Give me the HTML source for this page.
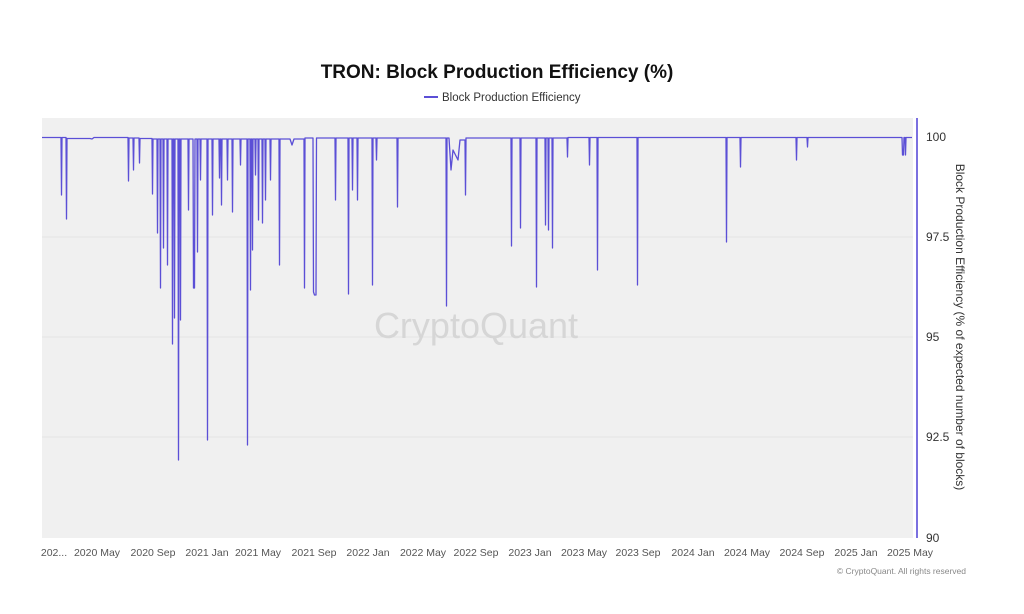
<!DOCTYPE html>
<html><head><meta charset="utf-8"><style>
body{margin:0;background:#fff;width:1024px;height:609px;overflow:hidden;font-family:"Liberation Sans",sans-serif}
</style></head><body>
<svg width="1024" height="609" xmlns="http://www.w3.org/2000/svg" font-family="Liberation Sans, sans-serif">
<text x="497" y="78" text-anchor="middle" font-size="19" font-weight="bold" fill="#111">TRON: Block Production Efficiency (%)</text>
<line x1="424" y1="97" x2="438" y2="97" stroke="#5b4fd6" stroke-width="2"/>
<text x="442" y="101" font-size="11.5" fill="#333">Block Production Efficiency</text>
<rect x="42" y="118" width="871" height="420" fill="#f0f0f0"/>
<g stroke="#e4e4e4" stroke-width="1">
<line x1="42" y1="237" x2="913" y2="237"/><line x1="42" y1="337" x2="913" y2="337"/><line x1="42" y1="437" x2="913" y2="437"/>
</g>
<text x="476" y="338" text-anchor="middle" font-size="36" fill="#d6d6d6">CryptoQuant</text>
<path fill="none" stroke="#5b4fd6" stroke-width="1.3" stroke-linejoin="round" d="M42 137.5 H61 L61.5 195 L62 137.5 H66 L66.5 219 L67 138.5 H90 L92 139 L94 137.5 H128 L128.5 181 L129 138 H133 L133.5 170 L134 138 H139 L139.5 163 L140 138.5 H152 L152.5 194 L153 139 H157 L157.5 233 L158 139 H160 L160.5 288 L161 139 H163 L163.5 248 L164 139 H167 L167.5 265 L168 139 H172 L172.5 344 L173 139 H174 L174.5 318 L175 139 H178 L178.5 460 L179 139 H180 L180.5 320 L181 139 H188 L188.5 210 L189 139 H193 L193.5 288 L194.5 288 L195 139 H197 L197.5 252 L198 139 H200 L200.5 180 L201 139 H207 L207.5 440 L208 139 H212 L212.5 215 L213 139 H219 L219.5 178 L220 139 H221 L221.5 205 L222 139 H227 L227.5 180 L228 139 H232 L232.5 212 L233 139 H240 L240.5 165 L241 139 H247 L247.5 445 L248 139 H250 L250.5 290 L251 139 H252 L252.5 250 L253 139 H255 L255.5 175 L256 139 H258 L258.5 220 L259 139 H262 L262.5 223 L263 139 H265 L265.5 200 L266 139 H270 L270.5 180 L271 139 H279 L279.5 265 L280 139 H290 L292 145 L294 139 H304 L304.5 288 L305 138 H313 L313.5 292 L314.5 295 L316 295 L316.5 138 H335 L335.5 200 L336 138 H348 L348.5 294 L349 138 H352 L352.5 190 L353 138 H357 L357.5 200 L358 138 H372 L372.5 285 L373 138 H376 L376.5 160 L377 138 H397 L397.5 207 L398 138 H446 L446.5 306 L447 138 H449 L451 170 L453 150 L458 160 L460 140 H465 L465.5 195 L466 138 H511 L511.5 246 L512 138 H520 L520.5 228 L521 138 H536 L536.5 287 L537 138 H545 L545.5 225 L546 138 H548 L548.5 230 L549 138 H552 L552.5 248 L553 138 H567 L567.5 157 L568 137.5 H589 L589.5 165 L590 137.5 H597 L597.5 270 L598 137.5 H637 L637.5 285 L638 137.5 H726 L726.5 242 L727 137.5 H740 L740.5 167 L741 137.5 H796 L796.5 160 L797 137.5 H807 L807.5 147 L808 137.5 H902 L902.5 155 L903.5 155 L904 137.5 H905 L905.5 155 L906 137.5 H912"/>
<line x1="917" y1="118" x2="917" y2="538" stroke="#7b70e0" stroke-width="2"/>
<g font-size="12" fill="#333">
<text x="926" y="141">100</text><text x="926" y="241">97.5</text><text x="926" y="341">95</text><text x="926" y="441">92.5</text><text x="926" y="542">90</text>
</g>
<text transform="translate(956,327) rotate(90)" text-anchor="middle" font-size="12" fill="#333">Block Production Efficiency (% of expected number of blocks)</text>
<g font-size="10.5" fill="#555" text-anchor="middle">
<text x="54" y="556">202...</text><text x="97" y="556">2020 May</text><text x="153" y="556">2020 Sep</text><text x="207" y="556">2021 Jan</text><text x="258" y="556">2021 May</text><text x="314" y="556">2021 Sep</text><text x="368" y="556">2022 Jan</text><text x="423" y="556">2022 May</text><text x="476" y="556">2022 Sep</text><text x="530" y="556">2023 Jan</text><text x="584" y="556">2023 May</text><text x="638" y="556">2023 Sep</text><text x="693" y="556">2024 Jan</text><text x="747" y="556">2024 May</text><text x="802" y="556">2024 Sep</text><text x="856" y="556">2025 Jan</text><text x="910" y="556">2025 May</text>
</g>
<text x="966" y="574" text-anchor="end" font-size="8.5" fill="#888">© CryptoQuant. All rights reserved</text>
</svg>
</body></html>
